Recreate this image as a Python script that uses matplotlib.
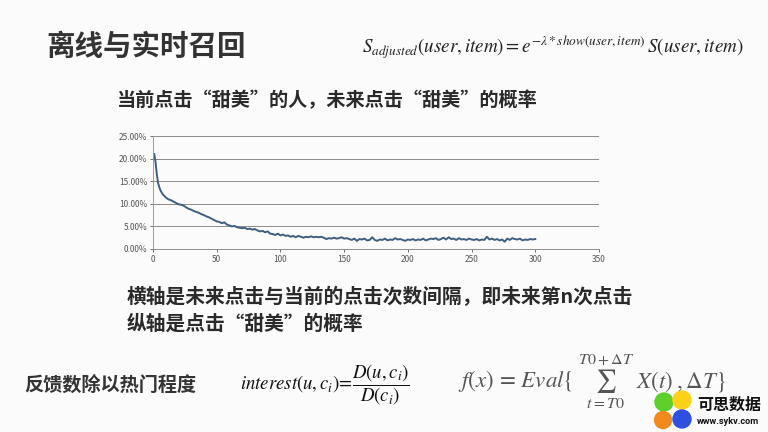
import matplotlib
matplotlib.use("Agg")
import matplotlib.pyplot as plt
from matplotlib.patches import Circle
from matplotlib.ticker import FuncFormatter

plt.rcParams['font.family'] = ['Noto Sans CJK SC', 'DejaVu Sans']
plt.rcParams['mathtext.fontset'] = 'stix'

# ---- data ----
x_head = [1, 2, 3, 4, 5, 6, 7, 8, 9, 10]
y_head = [21.0, 19.2, 16.5, 14.6, 13.6, 12.9, 12.4, 12.0, 11.7, 11.4]
x_tail = list(range(12, 301, 2))
y_tail = [
    11.0, 10.8, 10.5, 10.2, 9.9, 9.8, 9.6, 9.2, 8.9, 8.7,
    8.4, 8.2, 8.0, 7.7, 7.5, 7.2, 7.0, 6.7, 6.4, 6.1,
    6.0, 5.7, 5.9, 5.4, 5.2, 5.0, 5.1, 4.8, 4.7, 4.6,
    4.7, 4.4, 4.5, 4.3, 4.4, 4.1, 3.9, 4.0, 3.7, 3.9,
    3.4, 3.3, 3.1, 3.4, 3.0,
    3.2, 2.9, 3.0, 2.7, 2.9, 2.6, 2.9, 2.7, 2.5, 2.7,
    2.6, 2.8, 2.6, 2.7, 2.6, 2.7, 2.5, 2.2, 2.4, 2.3,
    2.5, 2.3, 2.4, 2.6, 2.3,
    2.4, 2.2, 2.0, 2.3, 1.8, 2.2, 2.1, 2.3, 1.9, 2.0,
    2.6, 2.0, 1.8, 2.1, 2.0, 2.3, 1.9, 2.1, 2.0, 2.4,
    2.1, 2.2, 2.0, 1.8, 2.1,
    2.0, 2.2, 1.9, 2.1, 2.0, 2.3, 1.9, 2.1, 2.3, 2.2,
    2.4, 2.0, 2.2, 2.5, 2.1, 2.6, 2.2, 2.3, 2.0, 2.4,
    2.1, 2.2, 2.0, 2.3, 2.1,
    2.0, 2.2, 1.9, 2.1, 2.0, 2.7, 2.1, 2.3, 2.0, 2.2,
    1.9, 2.1, 1.6, 2.3, 2.0, 2.4, 2.2, 2.1, 2.3, 1.9,
    2.1, 2.0, 2.2, 2.1, 2.2,
]
x_vals = x_head + x_tail
y_vals = y_head + y_tail
x_ticks = [0, 50, 100, 150, 200, 250, 300, 350]
y_ticks = [0, 5, 10, 15, 20, 25]

title = "离线与实时召回"
subtitle = "当前点击“甜美”的人，未来点击“甜美”的概率"
note1 = "横轴是未来点击与当前的点击次数间隔，即未来第n次点击"
note2 = "纵轴是点击“甜美”的概率"
bottom_label = "反馈数除以热门程度"

W, H = 768, 432
fig = plt.figure(figsize=(7.68, 4.32), dpi=100)
fig.patch.set_facecolor('#fbfbfb')

def fx(px):
    return px / W

def fy(py):
    return 1 - py / H

# ---- chart ----
ax = fig.add_axes([fx(153), fy(249), fx(599) - fx(153), fy(136) - fy(249)])
ax.set_facecolor('none')
ax.plot(x_vals, y_vals, color='#3f5f80', lw=1.4)
ax.set_xlim(0, 350)
ax.set_ylim(0, 25)
ax.set_xticks(x_ticks)
ax.set_yticks(y_ticks)
ax.yaxis.set_major_formatter(FuncFormatter(lambda v, p: f"{v:.2f}%"))
ax.grid(axis='y', color='#8c8c8c', lw=0.7)
ax.set_axisbelow(True)
for s in ['top', 'right']:
    ax.spines[s].set_visible(False)
ax.spines['left'].set_color('#9a9a9a')
ax.spines['bottom'].set_color('#8c8c8c')
ax.spines['left'].set_linewidth(0.7)
ax.spines['bottom'].set_linewidth(0.7)
ax.tick_params(axis='both', labelsize=6, colors='#555555', length=2, width=0.6, pad=2)

# ---- texts ----
fig.text(fx(46), fy(47), title, fontsize=20.5, fontweight='bold', color='#333333', va='center', ha='left')
fig.text(fx(362), fy(47),
         r'$S_{adjusted}(user,item) = e^{-\lambda * show(user,item)}\,S(user,item)$',
         fontsize=13.7, color='#222222', va='center', ha='left')
fig.text(fx(117), fy(100), subtitle, fontsize=13.8, fontweight='bold', color='#2a2a2a', va='center', ha='left')
fig.text(fx(127), fy(297), note1, fontsize=14.2, fontweight='bold', color='#2a2a2a', va='center', ha='left')
fig.text(fx(127), fy(324), note2, fontsize=14.2, fontweight='bold', color='#2a2a2a', va='center', ha='left')
fig.text(fx(24), fy(385), bottom_label, fontsize=13.8, fontweight='bold', color='#333333', va='center', ha='left')
fig.text(fx(240), fy(385), r'$interest(u,c_i)\!=\!\dfrac{D(u,c_i)}{D(c_i)}$',
         fontsize=13.5, color='#111111', va='center', ha='left')
fig.text(fx(458), fy(388), r'$f(x)\,=\,Eval\{\;\sum_{t=T0}^{T0+\Delta T}$',
         fontsize=16.5, color='#555555', va='baseline', ha='left')
fig.text(fx(636), fy(388), r'$X(t)\;,\Delta T\}$',
         fontsize=16.5, color='#555555', va='baseline', ha='left')

# ---- logo ----
lax = fig.add_axes([fx(648), fy(432), fx(768) - fx(648), fy(388) - fy(432)])
lax.set_xlim(648, 768)
lax.set_ylim(432, 388)
lax.set_aspect('equal')
lax.axis('off')
lax.add_patch(Circle((664, 402), 9, color='#5fcf2c'))
lax.add_patch(Circle((682, 400), 9, color='#ffd11a'))
lax.add_patch(Circle((663, 420), 8.5, color='#f28a1e'))
lax.add_patch(Circle((682, 419), 9, color='#2f4fe0'))
fig.text(fx(697), fy(405), "可思数据", fontsize=11.5, fontweight='bold', color='#111111', va='center', ha='left')
fig.text(fx(697), fy(421), "www.sykv.com", fontsize=6.6, fontweight='bold', color='#111111', va='center', ha='left',
         family=['Roboto', 'DejaVu Sans'])

fig.savefig('out.png', dpi=100, facecolor=fig.get_facecolor())
